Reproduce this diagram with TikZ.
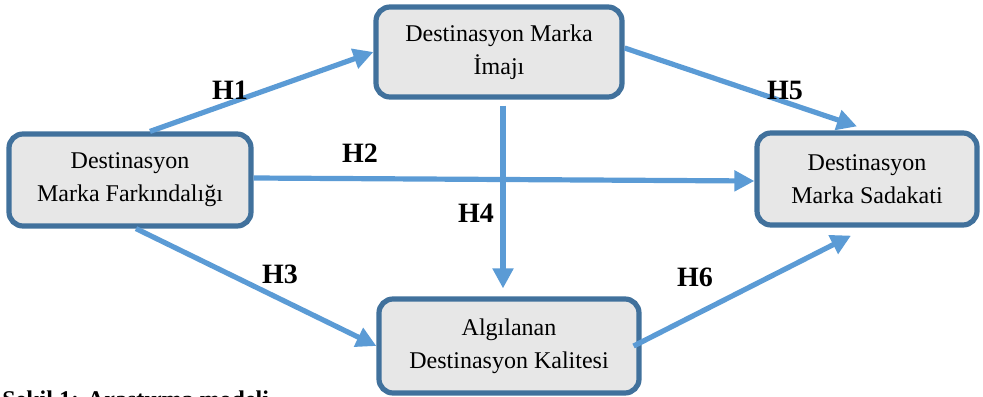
\documentclass[tikz,border=0pt]{standalone}
\usepackage{fontspec}
\setmainfont{Liberation Serif}
\usepackage{xcolor}
\usetikzlibrary{arrows.meta, positioning}

\definecolor{boxline}{HTML}{41719C}
\definecolor{boxfill}{HTML}{E7E7E7}
\definecolor{pathblue}{HTML}{5B9BD5}

\tikzset{
  construct/.style={draw=boxline, line width=2.6pt, fill=boxfill, rounded corners=7pt,
    align=center, inner sep=0pt, font=\fontsize{12}{16.5}\selectfont},
  hyp/.style={-{Triangle[length=10pt,width=10pt]}, pathblue, line width=2.6pt},
  hlabel/.style={font=\fontsize{14}{16}\selectfont\bfseries}
}

\begin{document}
\begin{tikzpicture}[x=0.5pt, y=-0.5pt]
\clip (0,0) rectangle (983,396);

\node[construct, minimum width=121pt, minimum height=46pt] (farkindalik) at (130,180) {Destinasyon\\Marka Farkındalığı};
\node[construct, minimum width=123pt, minimum height=45pt] (imaj) at (499,52) {Destinasyon Marka\\İmajı};
\node[construct, minimum width=110pt, minimum height=46pt] (sadakat) at (867,179) {Destinasyon\\Marka Sadakati};
\node[construct, minimum width=130pt, minimum height=47pt] (kalite) at (509,346) {Algılanan\\Destinasyon Kalitesi};

\draw[hyp] ([xshift=10pt]farkindalik.north) -- (imaj.west);
\draw[hyp] ([yshift=1pt]farkindalik.east) -- ([yshift=-1pt]sadakat.west);
\draw[hyp] ([xshift=3pt]farkindalik.south) -- (kalite.west);
\draw[hyp] ([xshift=2pt,yshift=-3pt]imaj.south) -- ([xshift=-3pt,yshift=4pt]kalite.north);
\draw[hyp] ([yshift=2pt]imaj.east) -- ([xshift=-5pt,yshift=2pt]sadakat.north);
\draw[hyp] ([xshift=-4pt]kalite.east) -- ([xshift=-8pt,yshift=-4pt]sadakat.south);

\node[hlabel] (h1) at (230,90) {H1};
\node[hlabel] (h2) at (360,153) {H2};
\node[hlabel] (h3) at (280,274) {H3};
\node[hlabel] (h4) at (476,213) {H4};
\node[hlabel] (h5) at (785,90) {H5};
\node[hlabel] (h6) at (695,277) {H6};

\node[anchor=north west, inner sep=0pt, font=\fontsize{12}{14}\selectfont\bfseries] (sekil) at (2,390) {Şekil 1: Araştırma modeli};
\end{tikzpicture}
\end{document}
